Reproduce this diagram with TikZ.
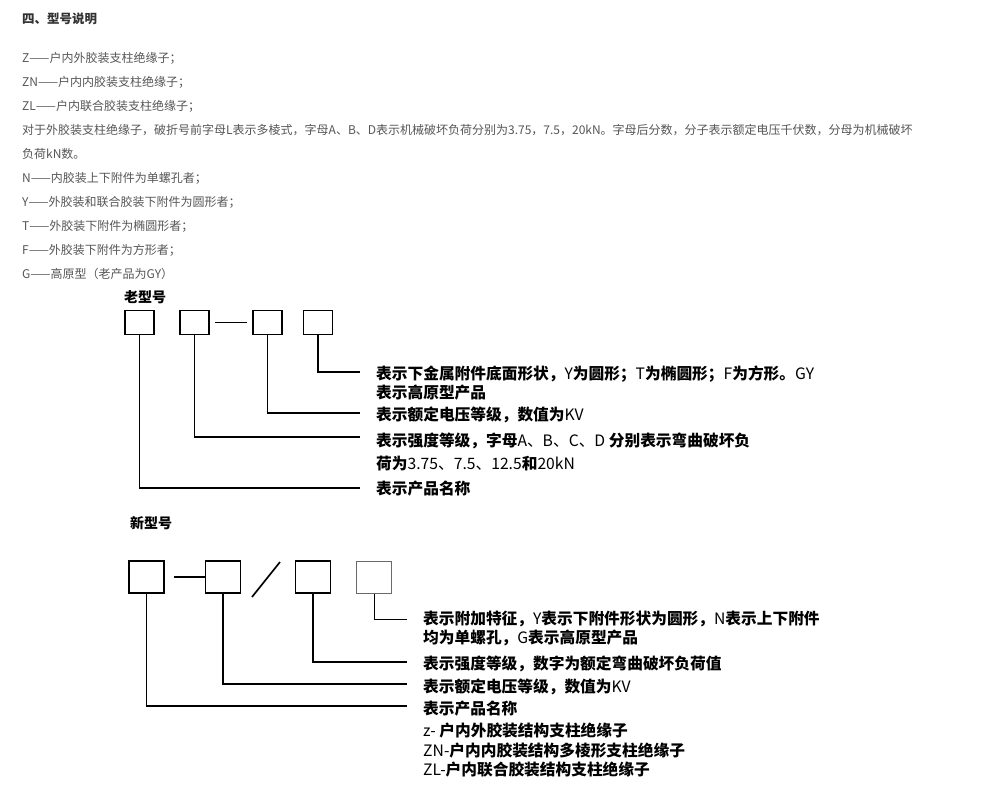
\documentclass[tikz,border=0pt]{standalone}
\usepackage{fontspec}
\setmainfont{Noto Sans CJK SC}
\usepackage{xcolor}
\definecolor{noteGray}{HTML}{555555}
\definecolor{headInk}{HTML}{333333}
\definecolor{slotGray}{HTML}{6A6A6A}
\usepackage{tikz}
\usetikzlibrary{positioning}
\newcommand{\mdtxt}[1]{{\mdseries #1}}

\begin{document}
\begin{tikzpicture}[
  x=1pt,y=-1pt,
  head/.style={anchor=base west,inner sep=0pt,text=headInk,
               font=\fontsize{12.5}{15}\selectfont\bfseries},
  note/.style={anchor=north west,align=left,inner sep=0pt,text=noteGray,
               font=\fontsize{12}{24}\selectfont},
  kind/.style={anchor=base west,inner sep=0pt,font=\fontsize{14}{16}\selectfont\bfseries},
  say/.style={anchor=base west,inner sep=0pt,font=\fontsize{15.7}{18}\selectfont\bfseries},
  slot/.style={draw,line width=1.7pt,inner sep=0pt},
  lead/.style={line width=1.7pt}
]
\useasboundingbox (0,0) rectangle (999,796);

% heading and notes
\node[head] (sec) at (22,23) {四、型号说明};
\node[note] (notes) at (22,52)
  {Z——户内外胶装支柱绝缘子；\\
   ZN——户内内胶装支柱绝缘子；\\
   ZL——户内联合胶装支柱绝缘子；\\
   对于外胶装支柱绝缘子，破折号前字母L表示多棱式，字母A、B、D表示机械破坏负荷分别为3.75，7.5，20kN。字母后分数，分子表示额定电压千伏数，分母为机械破坏\\
   负荷kN数。\\
   N——内胶装上下附件为单螺孔者；\\
   Y——外胶装和联合胶装下附件为圆形者；\\
   T——外胶装下附件为椭圆形者；\\
   F——外胶装下附件为方形者；\\
   G——高原型（老产品为GY）};

% old model code
\node[kind] (oldk) at (124,302) {老型号};
\node[slot,minimum width=29pt,minimum height=24pt] (ob1) at (139.5,322.5) {};
\node[slot,minimum width=29pt,minimum height=24pt] (ob2) at (194.5,322.5) {};
\node[slot,minimum width=29pt,minimum height=24pt] (ob3) at (267.5,322.5) {};
\node[slot,minimum width=29pt,minimum height=24pt] (ob4) at (318,322.5) {};
\draw[lead,shorten <=5pt,shorten >=5pt] (ob2) -- (ob3);

\coordinate (ol4) at (360,372);
\coordinate (ol3) at (360,413);
\coordinate (ol2) at (360,437);
\coordinate (ol1) at (360,488);
\draw[lead] (ob4.south) |- (ol4);
\draw[lead] (ob3.south) |- (ol3);
\draw[lead] (ob2.south) |- (ol2);
\draw[lead] (ob1.south) |- (ol1);

\node[say] (ot4) at (376,379) {表示下金属附件底面形状，\mdtxt{Y}为圆形；\mdtxt{T}为椭圆形；\mdtxt{F}为方形。\mdtxt{GY}};
\node[say] (ot4b) at (376,398) {表示高原型产品};
\node[say] (ot3) at (376,420) {表示额定电压等级，数值为\mdtxt{KV}};
\node[say] (ot2) at (376,446) {表示强度等级，字母\mdtxt{A、B、C、D} 分别表示弯曲破坏负};
\node[say] (ot2b) at (376,469) {荷为\mdtxt{3.75、7.5、12.5}和\mdtxt{20kN}};
\node[say] (ot1) at (376,494) {表示产品名称};

% new model code
\node[kind] (newk) at (130,528) {新型号};
\node[slot,minimum width=35pt,minimum height=32pt] (nb1) at (146.5,577) {};
\node[slot,minimum width=35pt,minimum height=32pt] (nb2) at (223,577) {};
\node[slot,minimum width=35pt,minimum height=32pt] (nb3) at (313,577) {};
\node[slot,draw=slotGray,line width=1pt,minimum width=35pt,minimum height=32pt] (nb4) at (374,577) {};
\draw[lead,shorten <=9pt] (nb1) -- (nb2);
\draw[lead] (252,597) -- (280,562);

\coordinate (nl4) at (407,619);
\coordinate (nl3) at (407,662);
\coordinate (nl2) at (407,684);
\coordinate (nl1) at (407,706);
\draw[line width=1pt] (nb4.south) |- (nl4);
\draw[lead] (nb3.south) |- (nl3);
\draw[lead] (nb2.south) |- (nl2);
\draw[lead] (nb1.south) |- (nl1);

\node[say] (nt4) at (423,624) {表示附加特征，\mdtxt{Y}表示下附件形状为圆形，\mdtxt{N}表示上下附件};
\node[say] (nt4b) at (423,643) {均为单螺孔，\mdtxt{G}表示高原型产品};
\node[say] (nt3) at (423,669) {表示强度等级，数字为额定弯曲破坏负荷值};
\node[say] (nt2) at (423,692) {表示额定电压等级，数值为\mdtxt{KV}};
\node[say] (nt1) at (423,714) {表示产品名称};
\node[say] (nt1b) at (423,736) {\mdtxt{z-} 户内外胶装结构支柱绝缘子};
\node[say] (nt1c) at (423,756) {\mdtxt{ZN-}户内内胶装结构多棱形支柱绝缘子};
\node[say] (nt1d) at (423,775) {\mdtxt{ZL-}户内联合胶装结构支柱绝缘子};
\end{tikzpicture}
\end{document}
